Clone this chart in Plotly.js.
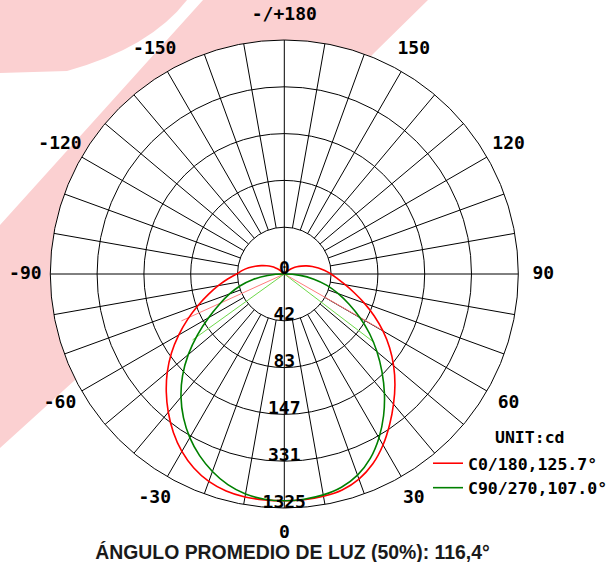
<!DOCTYPE html>
<html><head><meta charset="utf-8">
<script src="https://cdn.plot.ly/plotly-3.0.1.min.js"></script>
<style>html,body{margin:0;padding:0;background:#fff;}#chart{width:608px;height:562px;}</style>
</head><body><div id="chart"></div>
<script>
// ---- data ----
const redTheta = [-140,-135,-130,-125,-120,-115,-110,-105,-100,-95,-90,-85,-80,-75,-70,-65,-60,-55,-50,-45,-40,-35,-30,-25,-20,-15,-10,-5,0,5,10,15,20,25,30,35,40,45,50,55,60,65,70,75,80,85,90,95,100,105,110,115,120,125,130,135,140];
const redR = [0,18,38,60,84,110,138,170,205,238,270,322,380,445,520,602,690,780,865,945,1022,1095,1160,1212,1250,1272,1282,1284,1284,1283,1278,1266,1236,1186,1118,1040,962,886,808,728,645,562,482,410,350,302,265,230,196,164,134,106,82,60,38,18,0];
const greenTheta = [-90,-85,-80,-75,-70,-65,-60,-55,-50,-45,-40,-35,-30,-25,-20,-15,-10,-5,0,5,10,15,20,25,30,35,40,45,50,55,60,65,70,75,80,85,90];
const greenR = [0,95,180,258,330,405,495,600,710,815,910,995,1070,1135,1190,1235,1265,1280,1284,1280,1270,1250,1212,1152,1072,980,882,782,685,590,495,405,325,250,170,90,0];
const redBeamTheta = [-65.5, 0, 60.2];
const redBeamR = [640, 0, 640];
const greenBeamTheta = [-54.3, 0, 52.7];
const greenBeamR = [640, 0, 640];
const radialTicks = [0, 265, 530, 795, 1060, 1325];
const radialLabels = ['0', '42', '83', '147', '331', '1325'];
const angleTicks = [0, 30, 60, 90, 120, 150, 180, -150, -120, -90, -60, -30];
const angleLabels = ['0', '30', '60', '90', '120', '150', '-/+180', '-150', '-120', '-90', '-60', '-30'];
const seriesNames = ['C0/180,125.7°', 'C90/270,107.0°'];
const unitLabel = 'UNIT:cd';
const titleText = 'ÁNGULO PROMEDIO DE LUZ (50%): 116,4°';

// ---- build ----
const W = 608, H = 562;
const CX = 284.3, CY = 274, RPX = 234;          // plot centre / radius in px
const rMax = radialTicks[radialTicks.length - 1];
const rInner = radialTicks[1];
const RPX2 = 264;                                // outer overlay radius in px
const rMax2 = rMax * RPX2 / RPX;
const labelR = rMax * 259 / RPX;
const mono = {family: 'DejaVu Sans Mono', size: 18, weight: 'bold', color: '#000'};

const spokeR = [], spokeT = [];
for (let a = -170; a <= 180; a += 10) {
  if (a % 90 === 0) continue;
  spokeR.push(rInner, rMax, null); spokeT.push(a, a, null);
}
spokeR.push(rMax, 0, rMax, null, rMax, 0, rMax);
spokeT.push(0, 0, 180, null, -90, -90, 90);

// radial labels: centred ~5 px above each ring on the 0° ray
const off = 5 * rMax / RPX;
const radLabR = radialTicks.map(v => Math.abs(v - off));
const radLabT = radialTicks.map(v => (v - off) >= 0 ? 0 : 180);

const traces = [
  {type: 'scatterpolar', mode: 'lines', r: spokeR, theta: spokeT, connectgaps: false,
   line: {color: '#000', width: 1}, showlegend: false, hoverinfo: 'skip'},
  {type: 'scatterpolar', mode: 'lines', r: redBeamR, theta: redBeamTheta,
   line: {color: '#ff7b7b', width: 1}, showlegend: false, hoverinfo: 'skip'},
  {type: 'scatterpolar', mode: 'lines', r: greenBeamR, theta: greenBeamTheta,
   line: {color: '#6ed84a', width: 1}, showlegend: false, hoverinfo: 'skip'},
  {type: 'scatterpolar', mode: 'lines', r: redR, theta: redTheta, name: seriesNames[0],
   line: {color: '#ff0000', width: 1.6, shape: 'spline', smoothing: 1}},
  {type: 'scatterpolar', mode: 'lines', r: greenR, theta: greenTheta, name: seriesNames[1],
   line: {color: '#008000', width: 1.6, shape: 'spline', smoothing: 1}},
  {type: 'scatterpolar', mode: 'text', r: radLabR, theta: radLabT,
   text: radialLabels, textposition: 'middle center', textfont: mono, showlegend: false,
   hoverinfo: 'skip', cliponaxis: false},
  {type: 'scatterpolar', subplot: 'polar2', mode: 'text', r: angleTicks.map(() => labelR), theta: angleTicks,
   text: angleLabels, textposition: 'middle center', textfont: mono, showlegend: false,
   hoverinfo: 'skip', cliponaxis: false}
];

function P(x, y) { return (x / W).toFixed(4) + ',' + (1 - y / H).toFixed(4); }
const pink = '#fbd0d1';
const shapes = [
  {type: 'path', xref: 'paper', yref: 'paper', layer: 'below', fillcolor: pink, line: {width: 0},
   path: 'M' + P(0, 0) + ' L' + P(187, 0) + ' Q' + P(150, 48) + ' ' + P(67, 71) + ' L' + P(0, 73) + ' Z'},
  {type: 'path', xref: 'paper', yref: 'paper', layer: 'below', fillcolor: pink, line: {width: 0},
   path: 'M' + P(203, 0) + ' L' + P(428, 0) + ' L' + P(373, 54) + ' L' + P(75, 380) + ' L' + P(0, 448) +
         ' L' + P(0, 225) + ' Z'}
];

function dom(R) {
  return {x: [(CX - R) / W, (CX + R) / W], y: [(H - CY - R) / H, (H - CY + R) / H]};
}
const hiddenAngular = {rotation: -90, direction: 'counterclockwise', showgrid: false, showticklabels: false,
                       ticks: '', showline: false};

const layout = {
  width: W, height: H,
  margin: {l: 0, r: 0, t: 0, b: 0, autoexpand: false},
  paper_bgcolor: '#fff',
  showlegend: true,
  title: {text: titleText, font: {family: 'Liberation Sans', size: 19.4, weight: 'bold', color: '#1a1a1a'},
          x: 292.5 / W, xanchor: 'center', y: 1 - 552 / H, yanchor: 'middle', xref: 'paper', yref: 'container'},
  polar: {
    domain: dom(RPX),
    bgcolor: '#fff',
    radialaxis: {range: [0, rMax], tickvals: radialTicks.slice(1), showticklabels: false, ticks: '',
                 showline: false, gridcolor: '#000', gridwidth: 1},
    angularaxis: {rotation: -90, direction: 'counterclockwise', showgrid: false, showticklabels: false,
                  ticks: '', showline: true, linecolor: '#000', linewidth: 1}
  },
  polar2: {
    domain: dom(RPX2),
    bgcolor: 'rgba(0,0,0,0)',
    radialaxis: {range: [0, rMax2], showgrid: false, showticklabels: false, ticks: '', showline: false},
    angularaxis: hiddenAngular
  },
  legend: {x: 428 / W, y: 1 - 446 / H, xanchor: 'left', yanchor: 'top', bgcolor: 'rgba(0,0,0,0)',
           font: {family: 'DejaVu Sans Mono', size: 16.5, weight: 'bold', color: '#000'}},
  annotations: [
    {text: unitLabel, xref: 'paper', yref: 'paper', x: 530 / W, y: 1 - 437 / H, showarrow: false,
     xanchor: 'center', yanchor: 'middle', font: {family: 'DejaVu Sans Mono', size: 16.5, weight: 'bold', color: '#000'}}
  ],
  shapes: shapes
};

Plotly.newPlot('chart', traces, layout, {displayModeBar: false, staticPlot: true});
</script>
</body></html>
